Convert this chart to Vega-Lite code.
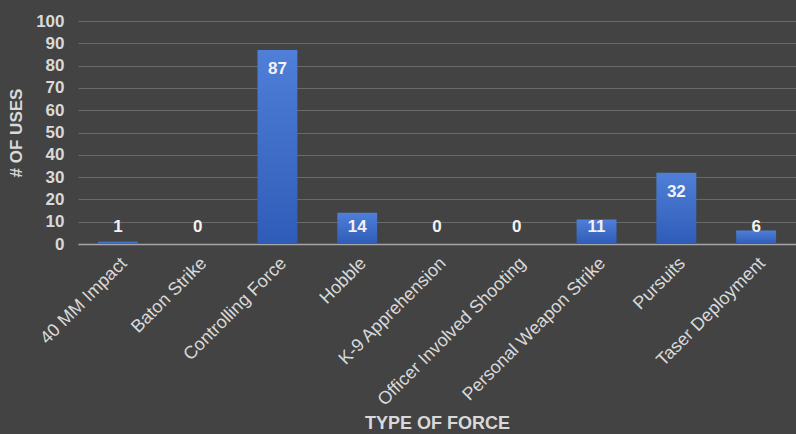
{
  "$schema": "https://vega.github.io/schema/vega-lite/v6.json",
  "width": 718,
  "height": 223,
  "autosize": {"type": "none"},
  "padding": {"left": 78, "top": 21, "right": 0, "bottom": 190},
  "background": "#434343",
  "config": {
    "view": {"stroke": null},
    "font": "Liberation Sans",
    "axis": {"labelColor": "#d9d9d9", "titleColor": "#d9d9d9", "labelFont": "Liberation Sans", "titleFont": "Liberation Sans"}
  },
  "data": {
    "values": [
      {"type": "40 MM Impact", "uses": 1},
      {"type": "Baton Strike", "uses": 0},
      {"type": "Controlling Force", "uses": 87},
      {"type": "Hobble", "uses": 14},
      {"type": "K-9 Apprehension", "uses": 0},
      {"type": "Officer Involved Shooting", "uses": 0},
      {"type": "Personal Weapon Strike", "uses": 11},
      {"type": "Pursuits", "uses": 32},
      {"type": "Taser Deployment", "uses": 6}
    ]
  },
  "encoding": {
    "x": {
      "field": "type", "type": "nominal", "sort": null,
      "scale": {"paddingInner": 0.5, "paddingOuter": 0.25},
      "axis": {
        "title": "TYPE OF FORCE", "titleFontSize": 18, "titleFontWeight": "bold", "titlePadding": 6,
        "labelAngle": -45, "labelFontSize": 18, "labelPadding": 10, "labelOverlap": false, "labelLimit": 400,
        "ticks": false, "domain": true, "domainColor": "#a6a6a6", "domainWidth": 1.5, "grid": false
      }
    }
  },
  "layer": [
    {
      "mark": {
        "type": "bar",
        "color": {
          "gradient": "linear", "x1": 0, "y1": 0, "x2": 0, "y2": 1,
          "stops": [{"offset": 0, "color": "#4f7fd8"}, {"offset": 1, "color": "#2f5cb8"}]
        }
      },
      "encoding": {
        "y": {
          "field": "uses", "type": "quantitative",
          "scale": {"domain": [0, 100]},
          "axis": {
            "title": "# OF USES", "titleFontSize": 17, "titleFontWeight": "bold", "titlePadding": 10,
            "values": [0, 10, 20, 30, 40, 50, 60, 70, 80, 90, 100],
            "labelFontSize": 17, "labelFontWeight": "bold", "labelPadding": 14, "labelOverlap": false,
            "ticks": false, "domain": false,
            "grid": true, "gridColor": "#6a6a6a", "gridWidth": 1
          }
        }
      }
    },
    {
      "transform": [{"filter": "datum.uses >= 20"}],
      "mark": {"type": "text", "color": "#f2f2f2", "fontSize": 17, "fontWeight": "bold", "baseline": "middle", "dy": 19},
      "encoding": {
        "y": {
          "field": "uses", "type": "quantitative",
          "scale": {"domain": [0, 100]},
          "axis": {
            "title": "# OF USES", "titleFontSize": 17, "titleFontWeight": "bold", "titlePadding": 10,
            "values": [0, 10, 20, 30, 40, 50, 60, 70, 80, 90, 100],
            "labelFontSize": 17, "labelFontWeight": "bold", "labelPadding": 14, "labelOverlap": false,
            "ticks": false, "domain": false,
            "grid": true, "gridColor": "#6a6a6a", "gridWidth": 1
          }
        },
        "text": {"field": "uses", "type": "quantitative"}
      }
    },
    {
      "transform": [{"filter": "datum.uses < 20"}],
      "mark": {"type": "text", "color": "#f2f2f2", "fontSize": 17, "fontWeight": "bold", "baseline": "middle"},
      "encoding": {
        "y": {
          "datum": 7.6, "type": "quantitative",
          "scale": {"domain": [0, 100]},
          "axis": {
            "title": "# OF USES", "titleFontSize": 17, "titleFontWeight": "bold", "titlePadding": 10,
            "values": [0, 10, 20, 30, 40, 50, 60, 70, 80, 90, 100],
            "labelFontSize": 17, "labelFontWeight": "bold", "labelPadding": 14, "labelOverlap": false,
            "ticks": false, "domain": false,
            "grid": true, "gridColor": "#6a6a6a", "gridWidth": 1
          }
        },
        "text": {"field": "uses", "type": "quantitative"}
      }
    }
  ]
}
